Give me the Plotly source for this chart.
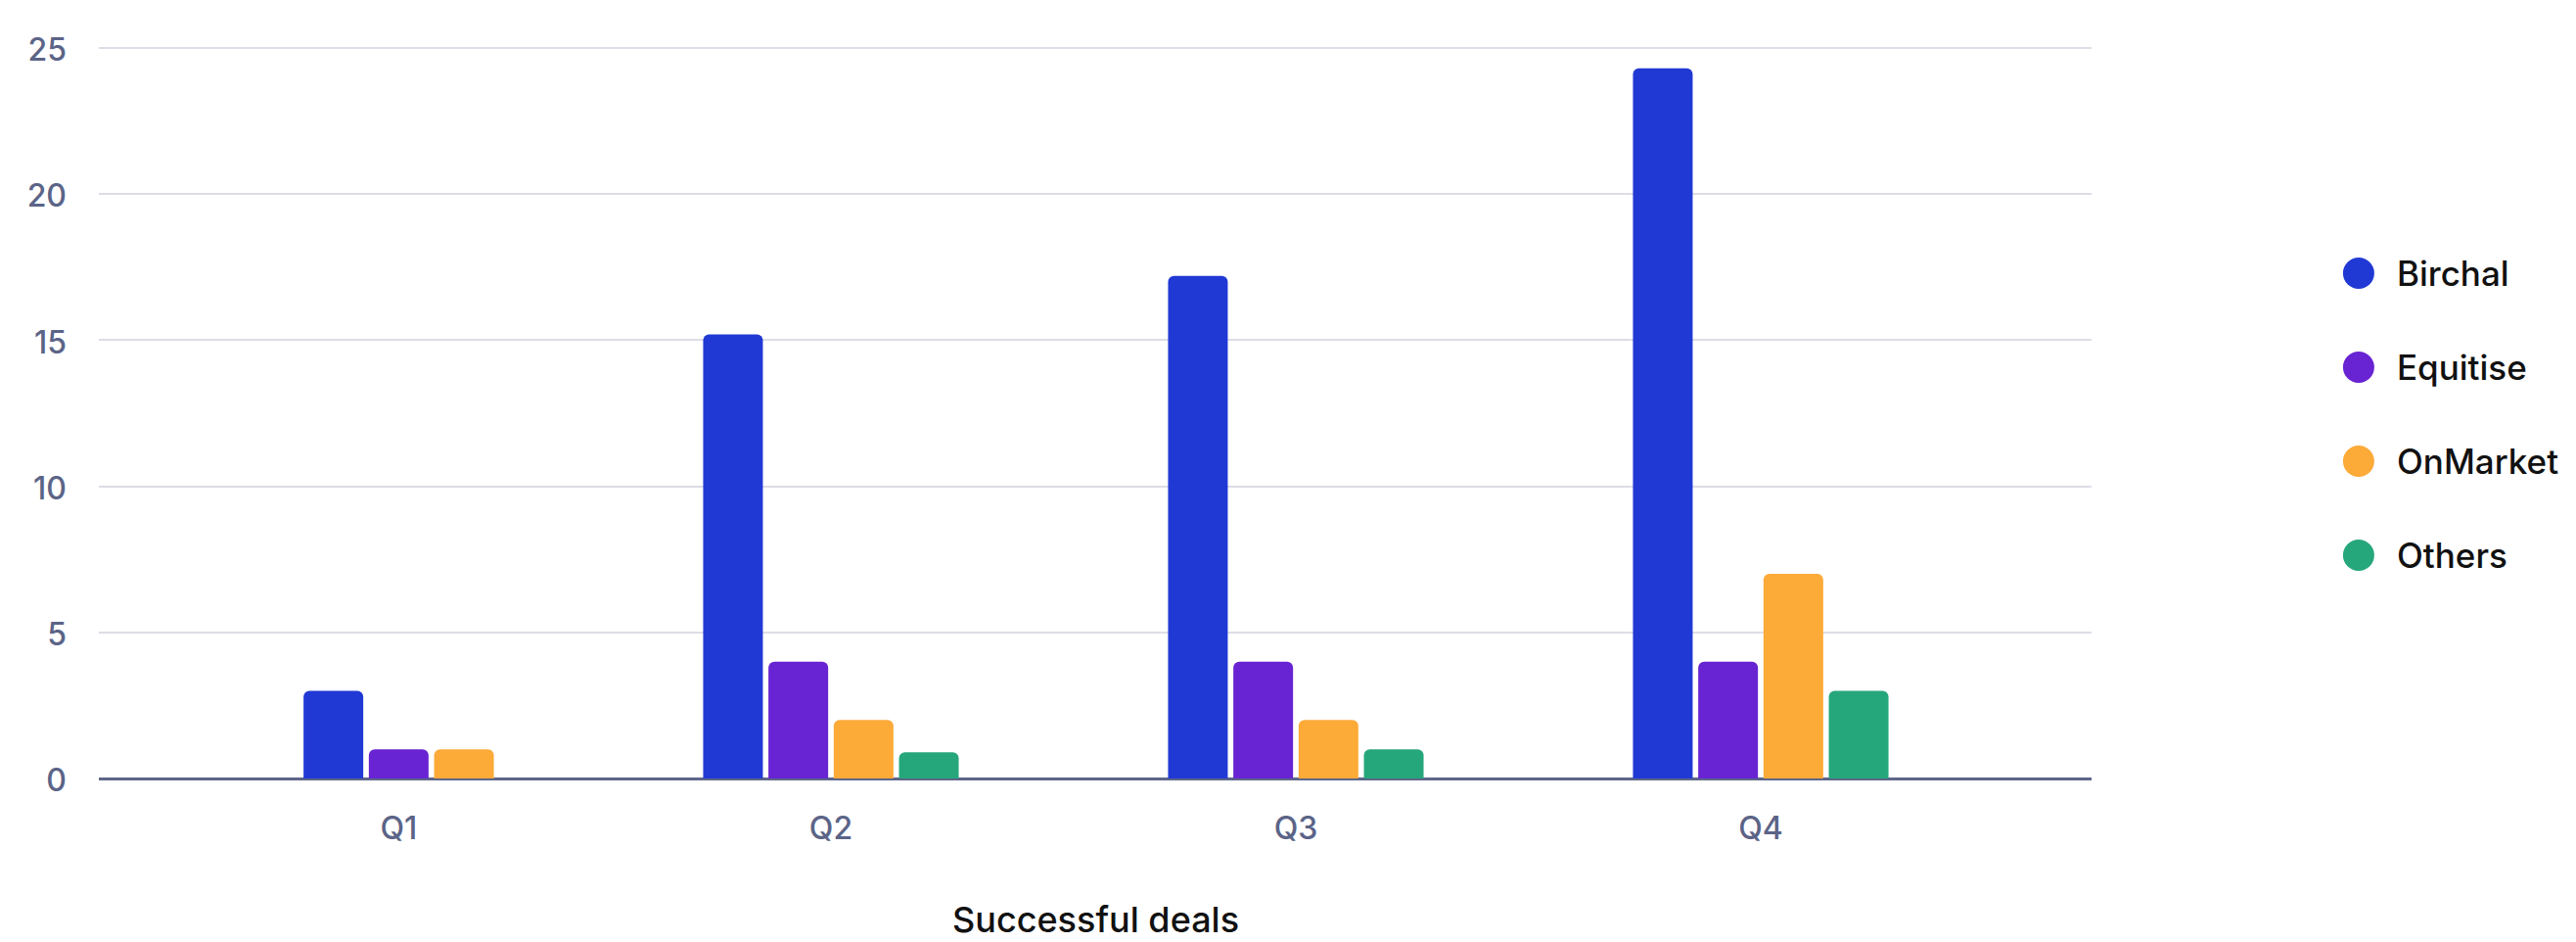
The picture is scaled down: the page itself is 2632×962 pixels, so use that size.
import plotly.graph_objects as go

# ---- data ----
quarters = ["Q1", "Q2", "Q3", "Q4"]
series_names = ["Birchal", "Equitise", "OnMarket", "Others"]
birchal = [3, 15.2, 17.2, 24.3]
equitise = [1, 4, 4, 4]
onmarket = [1, 2, 2, 7]
others = [None, 0.9, 1, 3]
series_colors = ["#2139D4", "#6823D2", "#FCAA38", "#26A77B"]
y_tick_values = [0, 5, 10, 15, 20, 25]
x_title = "Successful deals"

series_values = [birchal, equitise, onmarket, others]
n_series = len(series_values)

# ---- layout geometry (pixels) ----
W, H = 2632, 962
PLOT_L, PLOT_R = 101, 2137
PLOT_T, PLOT_B = 43, 795
PX_PER_CAT = 475
FIRST_CAT_PX = 374
BAR_W_PX, BAR_PITCH_PX = 61, 66.7

paper_w = W - PLOT_L
x_dom_end = (PLOT_R - PLOT_L) / paper_w
r0 = -(FIRST_CAT_PX - PLOT_L) / PX_PER_CAT
r1 = r0 + (PLOT_R - PLOT_L) / PX_PER_CAT
bw = BAR_W_PX / PX_PER_CAT
bp = BAR_PITCH_PX / PX_PER_CAT

FONT = "Inter"
TICK_COLOR = "#5B6487"


def slot_index(q, s):
    """Present bars of a quarter are packed to the right end of the group."""
    present = [k for k in range(n_series) if series_values[k][q] is not None]
    return n_series - len(present) + present.index(s)


fig = go.Figure()

for s, (name, vals, col) in enumerate(zip(series_names, series_values, series_colors)):
    xs, ys, offs = [], [], []
    for q in range(len(quarters)):
        if vals[q] is None:
            continue
        k = slot_index(q, s)
        xs.append(q)
        ys.append(vals[q])
        offs.append(-n_series * bp / 2 + k * bp + (bp - bw) / 2)
    fig.add_trace(go.Bar(
        name=name, x=xs, y=ys, offset=offs, width=[bw] * len(xs),
        marker=dict(color=col, line=dict(width=0), cornerradius=6),
        showlegend=False, hovertext=[quarters[q] for q in xs], hoverinfo="text+y+name",
    ))

# quarter labels centred on the bars that are present
tick_pos = []
for q in range(len(quarters)):
    slots = [slot_index(q, s) for s in range(n_series) if series_values[s][q] is not None]
    centres = [-n_series * bp / 2 + (k + 0.5) * bp for k in slots]
    tick_pos.append(q + sum(centres) / len(centres))

# custom legend (large circles)
fig.add_trace(go.Scatter(
    x=[31] * len(series_names), y=list(range(len(series_names))),
    xaxis="x2", yaxis="y2", mode="markers",
    marker=dict(size=32, color=series_colors, line=dict(width=0)),
    showlegend=False, hoverinfo="skip",
))

annotations = []
for i, name in enumerate(series_names):
    annotations.append(dict(
        x=68, y=i, xref="x2", yref="y2", xanchor="left", yanchor="middle",
        text=name, showarrow=False,
        font=dict(family=FONT, size=35, color="#111111", weight=500),
    ))
annotations.append(dict(
    x=0.5, y=0, xref="x domain", yref="y domain", xanchor="center", yanchor="top",
    yshift=-120, text=x_title, showarrow=False,
    font=dict(family=FONT, size=36, color="#111111", weight=500),
))

fig.update_layout(
    width=W, height=H, autosize=False,
    margin=dict(l=PLOT_L, r=0, t=PLOT_T, b=H - PLOT_B, pad=0),
    paper_bgcolor="white", plot_bgcolor="white",
    barmode="overlay",
    font=dict(family=FONT, color=TICK_COLOR),
    xaxis=dict(
        domain=[0, x_dom_end], range=[r0, r1],
        tickvals=tick_pos, ticktext=quarters,
        showgrid=False, zeroline=False, showline=False, ticks="",
        tickfont=dict(family=FONT, size=32, color=TICK_COLOR, weight=500),
        ticklabelstandoff=29,
    ),
    yaxis=dict(
        range=[0, 25.2], tickvals=y_tick_values,
        showgrid=True, gridcolor="#DCDDE6", gridwidth=2,
        zeroline=True, zerolinecolor="#5E6689", zerolinewidth=3,
        showline=False, ticks="",
        tickfont=dict(family=FONT, size=32, color=TICK_COLOR, weight=500),
        ticklabelstandoff=32, ticklabelshift=2,
    ),
    xaxis2=dict(domain=[0.9, 1], range=[0, 0.1 * paper_w], visible=False,
                anchor="y2", fixedrange=True),
    yaxis2=dict(domain=[0, 1], range=[5.375, -2.458], visible=False,
                anchor="x2", fixedrange=True),
    annotations=annotations,
)

fig.write_html(
    "out.html",
    config={"displayModeBar": False},
    post_script="document.body.style.margin='0';document.body.style.overflow='hidden';",
)
